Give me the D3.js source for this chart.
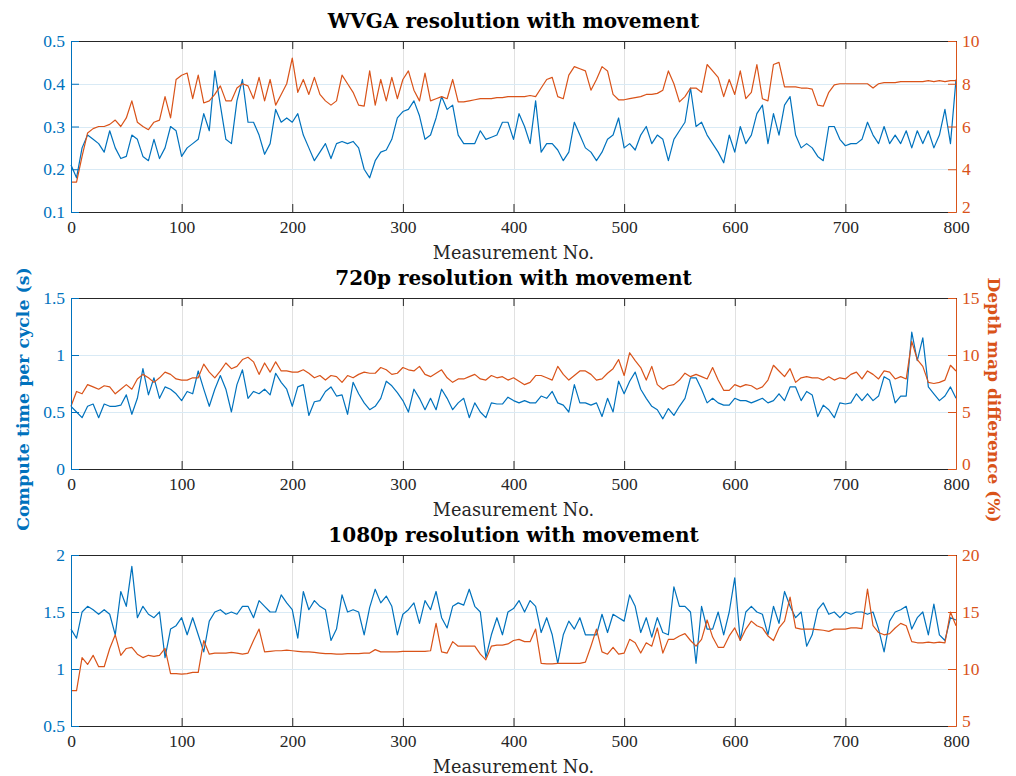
<!DOCTYPE html>
<html><head><meta charset="utf-8">
<script src="https://cdn.jsdelivr.net/npm/d3@7"></script>
<style>body{margin:0;background:#fff}</style>
</head><body><svg id="chart" width="1016" height="776"></svg>
<script>
// ---------------- DATA ----------------
const measurementNo = d3.range(0, 801, 5);
const titles = ["WVGA resolution with movement", "720p resolution with movement", "1080p resolution with movement"];
const xTicks = [0, 100, 200, 300, 400, 500, 600, 700, 800];
const leftTicks = [[0.1, 0.2, 0.3, 0.4, 0.5], [0, 0.5, 1, 1.5], [0.5, 1, 1.5, 2]];
const rightTicks = [[2, 4, 6, 8, 10], [0, 5, 10, 15], [5, 10, 15, 20]];
const xLabel = "Measurement No.";
const leftLabel = "Compute time per cycle (s)";
const rightLabel = "Depth map difference (%)";

const wvgaTime = [0.21,0.18,0.25,0.28,0.27,0.26,0.24,0.29,0.25,0.225,0.23,0.28,0.27,0.23,0.22,0.27,0.225,0.25,0.30,0.29,0.23,0.25,0.26,0.27,0.33,0.29,0.43,0.35,0.27,0.26,0.36,0.41,0.31,0.31,0.28,0.235,0.26,0.34,0.31,0.32,0.31,
 0.33,0.28,0.25,0.22,0.24,0.26,0.225,0.26,0.265,0.26,0.265,0.25,0.20,0.18,0.22,0.24,0.245,0.27,0.32,0.335,0.34,0.36,0.325,0.27,0.28,0.32,0.37,0.34,0.35,0.28,0.26,0.26,0.26,0.29,0.27,0.275,0.28,0.31,0.31,0.27,
 0.33,0.30,0.26,0.36,0.24,0.26,0.26,0.245,0.22,0.24,0.31,0.28,0.25,0.24,0.22,0.24,0.27,0.28,0.32,0.25,0.26,0.245,0.28,0.30,0.26,0.28,0.27,0.22,0.27,0.29,0.31,0.39,0.30,0.31,0.28,0.26,0.24,0.215,0.28,0.24,
 0.30,0.26,0.28,0.33,0.35,0.26,0.33,0.28,0.35,0.37,0.28,0.25,0.26,0.25,0.23,0.22,0.30,0.30,0.27,0.255,0.26,0.26,0.27,0.31,0.28,0.26,0.30,0.26,0.28,0.26,0.29,0.25,0.29,0.26,0.29,0.25,0.28,0.34,0.26,0.41];
const wvgaDiff = [3.4,3.4,4.6,5.7,5.9,6.0,6.0,6.1,6.3,6.0,6.4,7.2,6.2,6.0,5.85,6.2,6.3,7.4,6.4,8.2,8.4,8.5,7.3,8.4,7.1,7.2,7.5,7.9,7.2,7.2,7.8,8.0,7.9,7.3,8.3,7.2,8.2,7.0,7.5,8.0,9.2,
 7.6,8.2,7.5,8.3,7.5,7.2,7.0,7.2,8.4,8.0,7.6,7.0,6.95,8.6,7.0,8.2,7.2,8.3,7.3,8.2,8.6,7.7,7.2,8.5,7.2,7.3,7.4,7.3,8.2,7.15,7.15,7.2,7.25,7.3,7.3,7.3,7.35,7.35,7.4,7.4,
 7.4,7.4,7.45,7.4,7.8,8.2,8.3,7.4,7.3,8.4,8.8,8.7,8.6,7.7,8.2,8.8,8.6,7.5,7.25,7.25,7.3,7.35,7.4,7.5,7.5,7.55,7.7,8.6,8.0,7.15,7.4,7.8,7.8,7.6,8.9,8.6,8.3,7.4,8.2,7.5,
 8.6,7.3,7.6,8.9,7.3,7.2,8.9,9.0,7.85,7.85,7.85,7.8,7.8,7.75,7.0,6.95,7.6,7.95,8.0,8.0,8.0,8.0,8.0,8.0,7.8,8.0,8.05,8.05,8.05,8.1,8.1,8.1,8.1,8.1,8.15,8.1,8.15,8.1,8.15,8.15];

const hd720Time = [0.55,0.5,0.45,0.55,0.57,0.45,0.57,0.55,0.55,0.56,0.65,0.48,0.62,0.88,0.65,0.80,0.62,0.72,0.70,0.66,0.60,0.68,0.66,0.86,0.70,0.55,0.70,0.82,0.70,0.50,0.74,0.87,0.62,0.68,0.66,0.70,0.65,0.84,0.76,0.70,0.55,
 0.72,0.74,0.47,0.59,0.60,0.68,0.72,0.64,0.65,0.48,0.76,0.66,0.58,0.52,0.55,0.62,0.77,0.73,0.67,0.60,0.50,0.70,0.62,0.52,0.62,0.52,0.70,0.62,0.52,0.58,0.62,0.45,0.58,0.50,0.45,0.58,0.57,0.57,0.63,0.60,
 0.58,0.60,0.58,0.58,0.64,0.62,0.68,0.58,0.56,0.50,0.74,0.58,0.58,0.56,0.58,0.46,0.62,0.50,0.77,0.66,0.77,0.85,0.70,0.62,0.55,0.52,0.44,0.53,0.47,0.55,0.62,0.80,0.80,0.70,0.58,0.62,0.58,0.56,0.56,0.62,
 0.60,0.60,0.58,0.60,0.62,0.58,0.60,0.66,0.60,0.72,0.72,0.60,0.68,0.65,0.46,0.56,0.52,0.45,0.58,0.57,0.58,0.66,0.60,0.66,0.60,0.64,0.81,0.78,0.58,0.64,0.64,1.20,0.95,1.15,0.72,0.66,0.60,0.64,0.72,0.62];
const hd720Diff = [5.5,6.8,6.6,7.4,7.2,7.0,7.3,7.2,6.6,7.0,7.4,7.0,7.9,8.3,8.0,7.6,8.0,8.5,8.3,7.9,7.8,7.8,8.0,8.0,9.2,8.5,8.0,8.6,9.3,8.8,9.0,9.6,9.8,9.4,8.3,9.3,8.5,9.4,8.6,8.6,8.5,
 8.5,8.7,8.4,8.0,8.2,7.8,8.2,8.1,7.6,8.2,8.0,8.3,8.5,8.4,8.4,8.9,8.7,8.3,8.4,8.9,8.7,8.6,9.0,8.3,8.1,8.4,8.7,8.0,7.6,7.9,7.9,8.1,8.3,7.9,7.8,8.2,8.0,8.1,7.8,8.0,
 7.7,7.4,7.6,8.2,8.2,8.0,7.8,9.0,8.3,7.8,8.2,8.6,8.6,8.3,7.8,7.9,8.4,8.8,9.6,8.2,10.2,9.5,8.9,7.8,9.0,7.4,7.0,7.3,7.4,7.8,8.4,8.1,8.3,8.1,7.9,8.9,7.8,6.9,6.9,7.4,
 7.2,7.4,7.3,7.0,7.2,7.8,9.1,8.6,8.1,8.8,7.6,8.0,8.1,8.0,8.0,7.8,8.1,7.8,8.0,7.9,8.3,8.5,7.9,8.6,8.3,7.9,8.6,8.5,7.9,8.1,7.9,11.2,9.6,9.0,7.6,7.5,7.6,7.8,9.1,8.6];

const fhd1080Time = [1.35,1.27,1.5,1.55,1.52,1.48,1.52,1.48,1.3,1.68,1.55,1.9,1.45,1.55,1.48,1.45,1.5,1.1,1.35,1.38,1.45,1.3,1.45,1.3,1.15,1.42,1.5,1.52,1.48,1.5,1.48,1.55,1.55,1.45,1.6,1.55,1.5,1.5,1.65,1.58,1.52,
 1.27,1.68,1.52,1.6,1.55,1.52,1.25,1.35,1.65,1.5,1.52,1.5,1.3,1.54,1.7,1.58,1.64,1.55,1.3,1.48,1.52,1.58,1.4,1.6,1.52,1.68,1.45,1.36,1.55,1.58,1.56,1.7,1.55,1.5,1.1,1.3,1.45,1.3,1.5,1.53,
 1.6,1.5,1.6,1.55,1.32,1.45,1.3,1.05,1.3,1.42,1.35,1.45,1.3,1.3,1.3,1.48,1.32,1.48,1.45,1.42,1.65,1.55,1.32,1.45,1.28,1.45,1.32,1.3,1.72,1.55,1.55,1.5,1.05,1.55,1.35,1.35,1.5,1.3,1.5,1.8,
 1.25,1.5,1.55,1.5,1.48,1.3,1.55,1.4,1.68,1.55,1.45,1.5,1.2,1.3,1.52,1.58,1.48,1.5,1.45,1.5,1.48,1.5,1.5,1.48,1.5,1.35,1.15,1.42,1.5,1.52,1.55,1.35,1.45,1.5,1.3,1.57,1.3,1.25,1.45,1.43];
const fhd1080Diff = [8.1,8.1,11.0,10.4,11.2,10.2,10.2,11.8,13.0,11.2,11.8,11.9,11.3,11.0,11.2,11.1,11.2,11.8,9.6,9.6,9.55,9.6,9.7,9.7,12.5,11.3,11.4,11.4,11.4,11.45,11.4,11.3,11.4,12.5,13.5,11.5,11.55,11.6,11.6,11.65,11.6,
 11.55,11.5,11.5,11.45,11.4,11.35,11.35,11.3,11.3,11.35,11.35,11.35,11.4,11.4,11.7,11.5,11.5,11.5,11.5,11.55,11.55,11.55,11.55,11.55,11.6,14.0,11.5,11.4,12.4,12.0,12.0,12.0,12.0,11.3,10.8,12.0,12.1,12.1,12.2,12.5,
 12.6,12.4,12.4,13.5,10.5,10.45,10.45,10.5,10.5,10.5,10.5,10.5,10.6,12.0,13.5,11.5,11.3,11.9,11.3,11.4,12.6,12.3,11.4,12.3,12.0,13.6,11.4,12.6,12.6,12.9,13.1,12.5,12.0,12.6,14.3,12.8,11.9,11.9,12.9,13.6,
 12.5,13.5,14.2,13.8,13.6,12.9,12.5,13.6,14.2,16.3,13.6,13.5,13.5,13.5,13.45,13.4,13.3,13.5,13.5,13.5,13.6,13.6,13.55,17.0,13.8,13.2,13.0,13.1,13.6,14.0,13.8,12.4,12.3,12.3,12.35,12.3,12.35,12.3,15.0,13.8];

const timeSeries = [wvgaTime, hd720Time, fhd1080Time];
const diffSeries = [wvgaDiff, hd720Diff, fhd1080Diff];

// ---------------- LAYOUT / STYLE ----------------
const plotLeft = 71, plotRight = 956, plotH = 171, tops = [41, 298, 555];
const blue = "#0072BD", orange = "#D95319", dark = "#262626";
const tickFont = "'Liberation Serif', 'Times New Roman', serif";
const labelFont = "'DejaVu Serif', serif";
const tickSize = 17.5;

const svg = d3.select("#chart");
svg.append("rect").attr("width", 1016).attr("height", 776).attr("fill", "#fff");
const x = d3.scaleLinear().domain([0, 800]).range([plotLeft, plotRight]);

titles.forEach((title, i) => {
  const top = tops[i], bottom = top + plotH;
  const yL = d3.scaleLinear().domain(d3.extent(leftTicks[i])).range([bottom, top]);
  const yR = d3.scaleLinear().domain(d3.extent(rightTicks[i])).range([bottom, top]);
  const g = svg.append("g");

  // grid
  g.append("g").selectAll("line").data(xTicks.slice(1, -1)).join("line")
    .attr("x1", d => Math.round(x(d)) + 0.5).attr("x2", d => Math.round(x(d)) + 0.5)
    .attr("y1", top).attr("y2", bottom).attr("stroke", "#e1e1e1").attr("stroke-width", 1);
  g.append("g").selectAll("line").data(leftTicks[i].slice(1, -1)).join("line")
    .attr("x1", plotLeft).attr("x2", plotRight)
    .attr("y1", d => Math.round(yL(d)) + 0.5).attr("y2", d => Math.round(yL(d)) + 0.5)
    .attr("stroke", "#d9eaf5").attr("stroke-width", 1);

  // series
  const lineL = d3.line().x((d, j) => x(measurementNo[j])).y(d => yL(d));
  const lineR = d3.line().x((d, j) => x(measurementNo[j])).y(d => yR(d));
  g.append("path").datum(timeSeries[i]).attr("d", lineL)
    .attr("fill", "none").attr("stroke", blue).attr("stroke-width", 1.2).attr("stroke-linejoin", "round");
  g.append("path").datum(diffSeries[i]).attr("d", lineR)
    .attr("fill", "none").attr("stroke", orange).attr("stroke-width", 1.2).attr("stroke-linejoin", "round");

  // axes
  const bx = g.append("g").attr("transform", `translate(0,${bottom})`)
    .call(d3.axisBottom(x).tickValues(xTicks).tickSizeInner(-8).tickSizeOuter(0).tickPadding(9));
  const tx = g.append("g").attr("transform", `translate(0,${top})`)
    .call(d3.axisTop(x).tickValues(xTicks).tickSizeInner(-8).tickSizeOuter(0).tickFormat(""));
  [bx, tx].forEach(a => { a.selectAll("path,line").attr("stroke", dark); });
  bx.selectAll("text").attr("fill", dark).attr("font-family", tickFont).attr("font-size", tickSize);

  const ly = g.append("g").attr("transform", `translate(${plotLeft},0)`)
    .call(d3.axisLeft(yL).tickValues(leftTicks[i]).tickSizeInner(-8).tickSizeOuter(0).tickPadding(6).tickFormat(d => String(d)));
  ly.selectAll("path,line").attr("stroke", blue);
  ly.selectAll("text").attr("fill", blue).attr("font-family", tickFont).attr("font-size", tickSize);

  const ry = g.append("g").attr("transform", `translate(${plotRight},0)`)
    .call(d3.axisRight(yR).tickValues(rightTicks[i]).tickSizeInner(-8).tickSizeOuter(0).tickPadding(6).tickFormat(d => String(d)));
  ry.selectAll("path,line").attr("stroke", orange);
  ry.selectAll("text").attr("fill", orange).attr("font-family", tickFont).attr("font-size", tickSize)
    .attr("dy", d => d === rightTicks[i][0] ? "0em" : "0.32em");

  // title and x label
  g.append("text").attr("x", (plotLeft + plotRight) / 2).attr("y", top - 13)
    .attr("text-anchor", "middle").attr("font-family", labelFont).attr("font-weight", "bold")
    .attr("font-size", 20).attr("fill", "#000").text(title);
  g.append("text").attr("x", (plotLeft + plotRight) / 2).attr("y", bottom + 47)
    .attr("text-anchor", "middle").attr("font-family", labelFont)
    .attr("font-size", 17.7).attr("fill", dark).text(xLabel);
});

svg.append("text").attr("transform", "translate(29,399) rotate(-90)")
  .attr("text-anchor", "middle").attr("font-family", labelFont).attr("font-weight", "bold")
  .attr("font-size", 17.4).attr("fill", blue).text(leftLabel);
svg.append("text").attr("transform", "translate(988,400) rotate(90)")
  .attr("text-anchor", "middle").attr("font-family", labelFont).attr("font-weight", "bold")
  .attr("font-size", 17).attr("fill", orange).text(rightLabel);
</script>
</body></html>
